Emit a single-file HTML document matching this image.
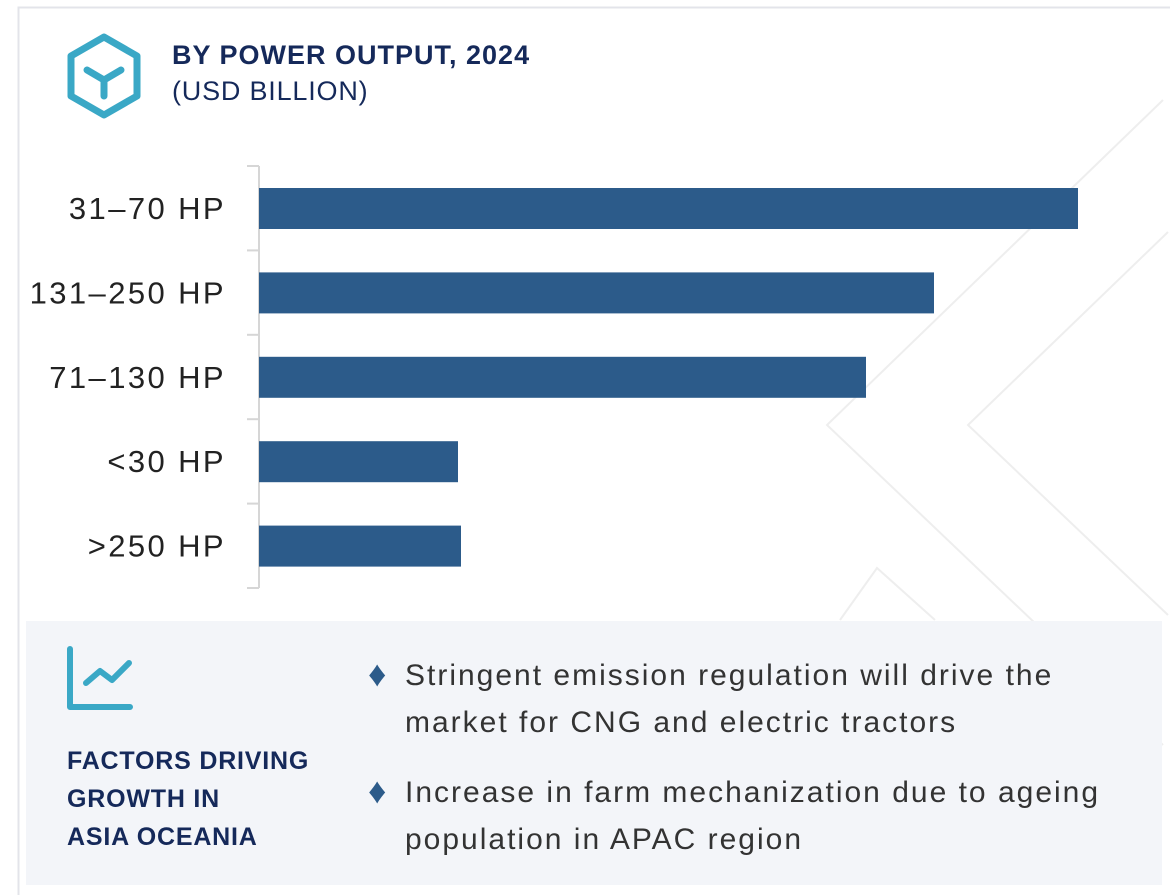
<!DOCTYPE html>
<html><head><meta charset="utf-8"><style>
body{margin:0;width:1170px;height:895px;background:#fff;font-family:"Liberation Sans",sans-serif;overflow:hidden;position:relative}
.abs{position:absolute}
</style></head><body>
<svg class="abs" style="left:0;top:0" width="1170" height="895">
<rect x="18.5" y="7.5" width="1160" height="890" fill="#fff" stroke="#e3e4ea" stroke-width="2"/>
<g stroke="#eeeeee" stroke-width="2" fill="none">
<polyline points="1163,100 827,425 1163,745"/>
<polyline points="1168,232 968,425 1168,615"/>
<polyline points="840,620 877,568 935,620"/>
</g>
<g fill="none" stroke="#3aa8c6" stroke-width="7" stroke-linecap="round" stroke-linejoin="round">
<polygon points="104,37 137,56 137,96 104,115 71,96 71,56"/>
<path d="M87,70 L104,80 L121,70 M104,80 L104,96"/>
</g>
<g id="axis"></g>
<g id="bars"></g>
<rect x="26" y="621" width="1136" height="264" fill="#f3f5f9"/>
<g fill="none" stroke="#3aa8c6" stroke-width="6" stroke-linecap="round" stroke-linejoin="round">
<path d="M70,649 L70,707 L130,707"/>
<path d="M86,683 L100,671 L112,680 L129,663"/>
</g>
</svg>
<div class="abs" style="left:172px;top:40px;font-size:27px;font-weight:bold;color:#15295a;letter-spacing:1px">BY POWER OUTPUT, 2024</div>
<div class="abs" style="left:172px;top:76px;font-size:27px;color:#15295a;letter-spacing:0.8px">(USD BILLION)</div>
<div class="abs" style="left:67px;top:742px;font-size:25px;font-weight:bold;color:#15295a;line-height:38px;letter-spacing:0.8px">FACTORS DRIVING<br>GROWTH IN<br>ASIA OCEANIA</div>
<div class="abs" style="left:368px;top:652px;font-size:30px;color:#333;line-height:47px;letter-spacing:2px"><span style="position:absolute;left:0;top:-2px;color:#2c5b8a;font-size:36px;letter-spacing:0">♦</span><div style="margin-left:37px">Stringent emission regulation will drive the<br>market for CNG and electric tractors</div></div>
<div class="abs" style="left:368px;top:769px;font-size:30px;color:#333;line-height:47px;letter-spacing:2px"><span style="position:absolute;left:0;top:-2px;color:#2c5b8a;font-size:36px;letter-spacing:0">♦</span><div style="margin-left:37px">Increase in farm mechanization due to ageing<br>population in APAC region</div></div>
<script>
const categories=["31–70 HP","131–250 HP","71–130 HP","<30 HP",">250 HP"];
const values=[8.19,6.75,6.07,1.99,2.02];
const NS="http://www.w3.org/2000/svg";
const x0=259,pxPer=100,top0=166,band=84.4;
const xs=v=>x0+v*pxPer;
const yb=i=>top0+i*band;
const ax=document.getElementById('axis'),bg=document.getElementById('bars');
function mk(t,a,p){const e=document.createElementNS(NS,t);for(const k in a)e.setAttribute(k,a[k]);p.appendChild(e);return e;}
mk('line',{x1:x0,y1:top0,x2:x0,y2:yb(categories.length),stroke:'#d6d6d6','stroke-width':2},ax);
for(let i=0;i<=categories.length;i++){const t=mk('line',{x1:x0-12,y1:yb(i),x2:x0,y2:yb(i),stroke:'#d6d6d6','stroke-width':2},ax);

}
categories.forEach((c,i)=>{
const r=mk('rect',{x:x0,y:yb(i)+22,width:xs(values[i])-x0,height:41,fill:'#2c5b8a'},bg);


const t=mk('text',{x:226,y:yb(i)+53,'text-anchor':'end','font-size':31,'letter-spacing':2.4,fill:'#222','font-family':'Liberation Sans, sans-serif'},ax);
t.textContent=c;


});
</script>
</body></html>
